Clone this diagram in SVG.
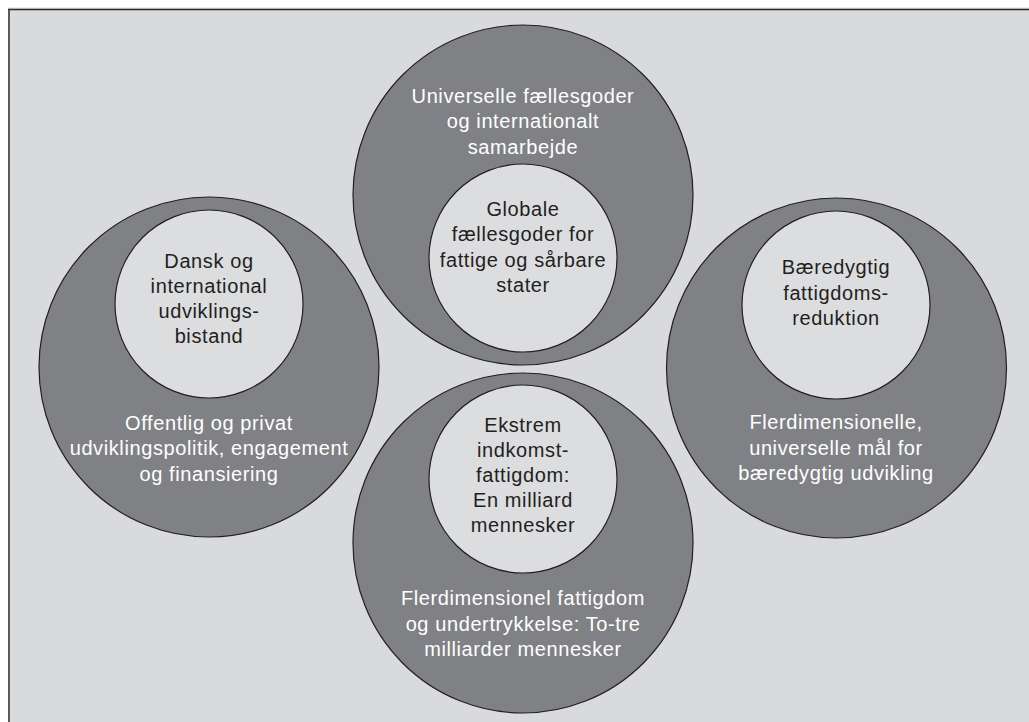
<svg xmlns="http://www.w3.org/2000/svg" width="1029" height="722" viewBox="0 0 1029 722">
<style>
.outer{fill:#808184;stroke:#231f20;stroke-width:1.2}
.inner{fill:#dcdddf;stroke:#231f20;stroke-width:1.2}
text{font-family:"Liberation Sans",Arial,sans-serif;font-size:20px;letter-spacing:0.6px;text-anchor:middle}
.w{fill:#ffffff}
.d{fill:#231f20}
</style>
<rect x="0" y="0" width="1029" height="722" fill="#ffffff"/>
<rect x="8" y="8" width="1021" height="714" fill="#d9dadc"/>
<line x1="8" y1="8.3" x2="1029" y2="8.3" stroke="#9a9a9c" stroke-width="0.8"/>
<line x1="8" y1="9.6" x2="1029" y2="9.6" stroke="#2a2a2a" stroke-width="1.4"/>
<line x1="9" y1="9" x2="9" y2="722" stroke="#3a3a3a" stroke-width="1.6"/>
<g id="connectors"></g>
<g id="node-top">
<circle class="outer" cx="523" cy="195" r="170"/>
<text class="w" x="523" y="102.5">Universelle fællesgoder</text>
<text class="w" x="523" y="128">og internationalt</text>
<text class="w" x="523" y="153.5">samarbejde</text>
<circle class="inner" cx="523" cy="258" r="94"/>
<text class="d" x="523" y="216">Globale</text>
<text class="d" x="523" y="241.3">fællesgoder for</text>
<text class="d" x="523" y="266.6">fattige og sårbare</text>
<text class="d" x="523" y="291.9">stater</text>
</g>
<g id="node-left">
<circle class="outer" cx="209" cy="367" r="170"/>
<circle class="inner" cx="209" cy="304" r="94"/>
<text class="d" x="209" y="268.3">Dansk og</text>
<text class="d" x="209" y="293.3">international</text>
<text class="d" x="209" y="318.3">udviklings-</text>
<text class="d" x="209" y="343.3">bistand</text>
<text class="w" x="209" y="430">Offentlig og privat</text>
<text class="w" x="209" y="455.3">udviklingspolitik, engagement</text>
<text class="w" x="209" y="480.6">og finansiering</text>
</g>
<g id="node-right">
<circle class="outer" cx="836.5" cy="368" r="170"/>
<circle class="inner" cx="836" cy="305" r="94"/>
<text class="d" x="836" y="274">Bæredygtig</text>
<text class="d" x="836" y="299.5">fattigdoms-</text>
<text class="d" x="836" y="325">reduktion</text>
<text class="w" x="836" y="429">Flerdimensionelle,</text>
<text class="w" x="836" y="454.5">universelle mål for</text>
<text class="w" x="836" y="480">bæredygtig udvikling</text>
</g>
<g id="node-bottom">
<circle class="outer" cx="523" cy="543" r="170"/>
<circle class="inner" cx="523" cy="479" r="94"/>
<text class="d" x="523" y="431.5">Ekstrem</text>
<text class="d" x="523" y="456.7">indkomst-</text>
<text class="d" x="523" y="481.9">fattigdom:</text>
<text class="d" x="523" y="507.1">En milliard</text>
<text class="d" x="523" y="532.3">mennesker</text>
<text class="w" x="523" y="605">Flerdimensionel fattigdom</text>
<text class="w" x="523" y="630.5">og undertrykkelse: To-tre</text>
<text class="w" x="523" y="656">milliarder mennesker</text>
</g>
</svg>
